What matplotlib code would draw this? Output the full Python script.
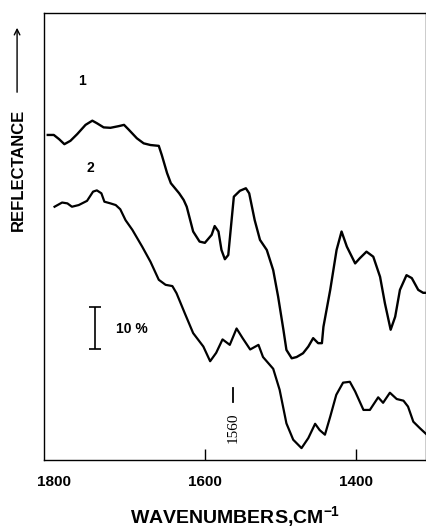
import matplotlib
matplotlib.use("Agg")
import matplotlib.pyplot as plt

plt.rcParams['font.family'] = ['Liberation Sans', 'DejaVu Sans']
plt.rcParams['mathtext.default'] = 'regular'

# spectrum 1 (upper trace), wavenumber in cm-1 and reflectance in %
wn_1 = [1808, 1800, 1793, 1786, 1778, 1769, 1758, 1749, 1743, 1734, 1725, 1714,
        1707, 1701, 1690, 1681, 1672, 1661, 1657, 1650, 1645, 1634, 1628, 1624,
        1615.5, 1607, 1600, 1591, 1587, 1582, 1578, 1573.5, 1569, 1564.6, 1561.6,
        1553.6, 1545.7, 1541.3, 1534, 1527, 1518, 1509.5, 1503, 1496, 1492, 1485,
        1478.5, 1470, 1463, 1456.6, 1450, 1445, 1443, 1434, 1425.6, 1419, 1412,
        1401, 1395, 1386, 1377, 1368, 1361.6, 1354, 1348, 1341.7, 1333, 1326,
        1317.5, 1311, 1307]
refl_1 = [77.4, 77.4, 76.4, 75.2, 76.0, 77.6, 79.8, 80.8, 80.2, 79.2, 79.1, 79.5,
          79.8, 78.7, 76.6, 75.4, 75.0, 74.8, 72.6, 68.3, 65.9, 63.5, 61.9, 60.3,
          54.4, 52.0, 51.7, 53.6, 55.7, 54.4, 50.0, 47.8, 48.8, 57.1, 62.7,
          64.1, 64.7, 63.5, 57.1, 52.4, 50.0, 45.2, 38.9, 31.0, 26.2, 24.2,
          24.5, 25.4, 27.0, 29.0, 27.8, 27.8, 31.7, 40.5, 50.0, 54.4, 50.8,
          46.8, 48.0, 49.6, 48.4, 43.6, 37.3, 31.0, 34.1, 40.5, 44.0, 43.3,
          40.5, 39.8, 39.8]

# spectrum 2 (lower trace)
wn_2 = [1799, 1789, 1782, 1776, 1767, 1756, 1748, 1743, 1737, 1733, 1725, 1718,
        1712, 1705, 1696, 1683, 1672, 1661, 1652, 1643, 1637.5, 1626.5, 1615.5,
        1602, 1593, 1585, 1576.6, 1567, 1558, 1550, 1540, 1529, 1523, 1509.5,
        1501, 1492, 1483, 1472, 1463, 1454, 1448, 1441, 1434, 1426, 1417, 1408,
        1401, 1390, 1381.5, 1370.5, 1364, 1355, 1346, 1337, 1331, 1324, 1315, 1306]
refl_2 = [60.3, 61.3, 61.1, 60.3, 60.7, 61.7, 63.9, 64.2, 63.5, 61.5, 61.1, 60.7,
          59.7, 57.1, 54.8, 50.8, 47.2, 42.9, 41.7, 41.4, 39.7, 34.9, 30.2,
          27.0, 23.5, 25.5, 28.7, 27.4, 31.3, 29.0, 26.3, 27.4, 24.5, 21.7,
          16.7, 8.7, 4.8, 2.8, 5.2, 8.6, 7.1, 6.0, 10.3, 15.5, 18.4, 18.6,
          16.3, 11.9, 11.9, 14.9, 13.6, 16.0, 14.5, 14.1, 12.7, 9.1, 7.5, 6.0]

x_ticks = [1800, 1600, 1400]
x_tick_labels = ['1800', '1600', '1400']

fig = plt.figure(figsize=(4.27, 5.28), dpi=100)
ax = fig.add_axes([0.103, 0.129, 0.895, 0.846])

ax.plot(wn_1, refl_1, color='black', lw=1.7, solid_joinstyle='round')
ax.plot(wn_2, refl_2, color='black', lw=1.6, solid_joinstyle='round')

ax.set_xlim(1813, 1307)
ax.set_ylim(0, 106.4)

ax.set_xticks(x_ticks)
ax.set_xticklabels(x_tick_labels, fontsize=11, fontweight='bold')
ax.set_yticks([])
ax.tick_params(axis='x', direction='in', length=8, width=1, pad=11)
ax.xaxis.get_major_ticks()[0].tick1line.set_visible(False)
for sp in ax.spines.values():
    sp.set_linewidth(1.0)

# trace numbers
ax.text(1762, 90.2, '1', fontsize=10, fontweight='bold', ha='center', va='center')
ax.text(1751, 69.5, '2', fontsize=10, fontweight='bold', ha='center', va='center')

# 10 % scale bar
ax.errorbar([1746], [31.4], yerr=5, fmt='none', ecolor='black', elinewidth=1.2,
            capsize=4, capthick=1.2)
ax.text(1717, 31.2, '10 %', fontsize=10, fontweight='bold', ha='left', va='center')

# 1560 marker
ax.plot([1563, 1563], [13.8, 17.1], color='black', lw=1.3)
ax.text(1563, 7.7, '1560', rotation=90, fontsize=11, family='Liberation Serif',
        ha='center', va='center')

ax.set_xlabel('WAVENUMBERS,CM$^{-1}$', fontsize=14, fontweight='bold', labelpad=11)

# y label with arrow
fig.text(0.042, 1 - 170 / 528, 'REFLECTANCE', rotation=90, fontsize=12,
         fontweight='bold', ha='center', va='center')
fig.add_artist(matplotlib.patches.FancyArrowPatch(
    (0.040, 1 - 95 / 528), (0.040, 1 - 25 / 528), transform=fig.transFigure,
    arrowstyle='->', mutation_scale=10, lw=1.0, color='black'))

fig.savefig('out.png', dpi=100)
